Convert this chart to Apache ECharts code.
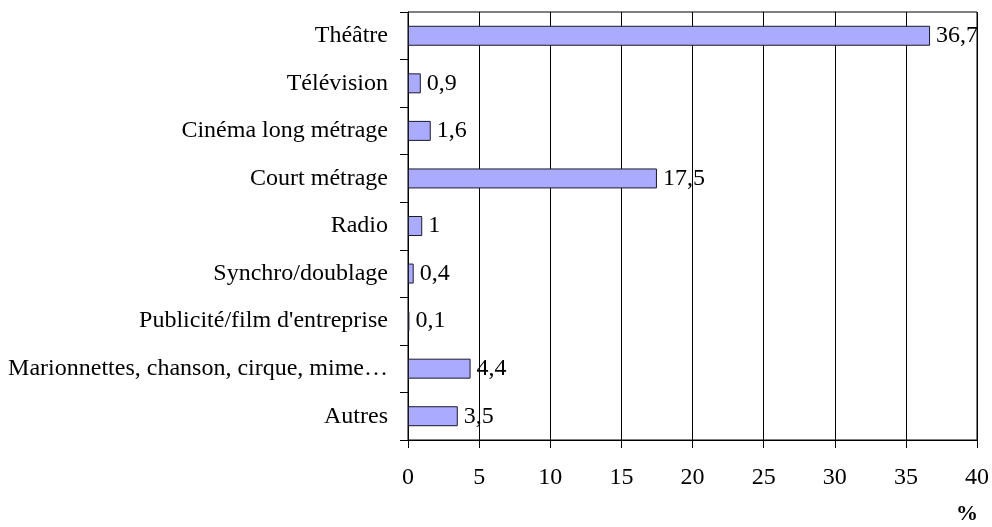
<!DOCTYPE html>
<html>
<head>
<meta charset="utf-8">
<script src="https://cdn.jsdelivr.net/npm/echarts@6/dist/echarts.min.js"></script>
<style>
  html, body { margin: 0; padding: 0; background: #fff; }
  #chart { width: 992px; height: 527px; }
</style>
</head>
<body>
<div id="chart"></div>
<script>
const categories = [
  'Théâtre',
  'Télévision',
  'Cinéma long métrage',
  'Court métrage',
  'Radio',
  'Synchro/doublage',
  "Publicité/film d'entreprise",
  'Marionnettes, chanson, cirque, mime…',
  'Autres'
]
const values = [36.7, 0.9, 1.6, 17.5, 1, 0.4, 0.1, 4.4, 3.5]
const xTicks = { min: 0, max: 40, interval: 5 }

const font = '"Liberation Serif", "DejaVu Serif", serif'

const chart = echarts.init(document.getElementById('chart'))
chart.setOption({
  animation: false,
  textStyle: { fontFamily: font },
  grid: {
    left: 408,
    right: 14,
    top: 12,
    bottom: 87,
    show: true,
    borderColor: '#000',
    borderWidth: 1
  },
  xAxis: {
    type: 'value',
    min: xTicks.min,
    max: xTicks.max,
    interval: xTicks.interval,
    axisLine: { show: true, lineStyle: { color: '#000', width: 1 } },
    axisTick: { show: true, length: 8, lineStyle: { color: '#000' } },
    splitLine: { show: true, lineStyle: { color: '#000', width: 1 } },
    axisLabel: {
      color: '#000',
      fontFamily: font,
      fontSize: 24,
      margin: 26
    }
  },
  yAxis: {
    type: 'category',
    inverse: true,
    data: categories,
    axisLine: { show: true, lineStyle: { color: '#000', width: 1 } },
    axisTick: { show: true, length: 8, lineStyle: { color: '#000' } },
    axisLabel: {
      color: '#000',
      fontFamily: font,
      fontSize: 24,
      margin: 20
    }
  },
  series: [{
    type: 'bar',
    data: values,
    barCategoryGap: '58%',
    itemStyle: {
      color: '#aaaaff',
      borderColor: '#1a1a2a',
      borderWidth: 1
    },
    label: {
      show: true,
      position: 'right',
      distance: 6,
      color: '#000',
      fontFamily: font,
      fontSize: 24,
      formatter: p => String(p.value).replace('.', ',')
    }
  }],
  graphic: [{
    type: 'text',
    left: 956,
    top: 503,
    style: {
      text: '%',
      font: 'bold 22px ' + font,
      fill: '#000'
    }
  }]
})
</script>
</body>
</html>
